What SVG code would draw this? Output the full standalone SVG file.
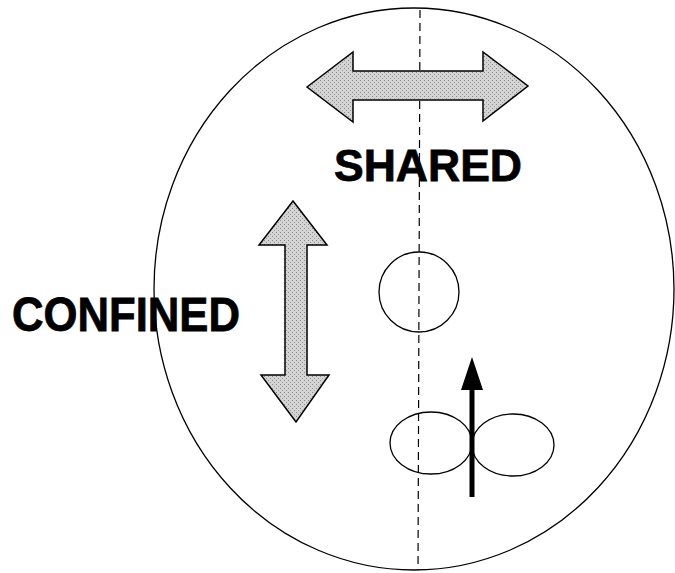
<svg xmlns="http://www.w3.org/2000/svg" width="675" height="573" viewBox="0 0 675 573">
<style>
.line{fill:none;stroke:#000;stroke-width:1.3}
.big{stroke:#000;stroke-width:1.5;stroke-linejoin:miter}
.lbl{font-family:"Liberation Sans",Arial,sans-serif;font-weight:bold;fill:#000;stroke:#000;stroke-width:0.8}
</style>
<defs>
<pattern id="stip" width="4" height="4" patternUnits="userSpaceOnUse">
<rect width="4" height="4" fill="#d4d4d4"/>
<rect x="0" y="0" width="1" height="1" fill="#8a8a8a"/>
<rect x="2" y="2" width="1" height="1" fill="#9a9a9a"/>
</pattern>
</defs>
<rect width="675" height="573" fill="#fff"/>
<g id="disk">
<ellipse class="line" cx="414" cy="289" rx="260" ry="281"/>
</g>
<g id="axis">
<line x1="420" y1="10" x2="418" y2="570" stroke="#000" stroke-width="1.2" stroke-dasharray="8,5"/>
</g>
<g id="hole">
<ellipse class="line" cx="419" cy="292" rx="40" ry="40"/>
</g>
<g id="shared-arrow">
<path class="big" style="fill:url(#stip)" d="M307,87 L353,52 L353,71 L483,71 L483,52 L528,86 L483,121 L483,100 L353,100 L353,122 Z"/>
</g>
<g id="confined-arrow">
<path class="big" style="fill:url(#stip)" d="M293,201 L327,245 L307,245 L307,375 L329,375 L296,422 L261,375 L285,375 L285,245 L259,245 Z"/>
</g>
<g id="orbital">
<ellipse class="line" cx="431" cy="443" rx="41" ry="31"/>
<ellipse class="line" cx="513" cy="445" rx="41" ry="31"/>
<line x1="472" y1="497" x2="472" y2="388" stroke="#000" stroke-width="5"/>
<polygon points="472,357 483,390 461,390" fill="#000"/>
</g>
<g id="labels">
<text class="lbl" x="334" y="181" font-size="45" textLength="188" lengthAdjust="spacingAndGlyphs">SHARED</text>
<text class="lbl" x="12" y="331" font-size="48" textLength="228" lengthAdjust="spacingAndGlyphs">CONFINED</text>
</g>
</svg>
